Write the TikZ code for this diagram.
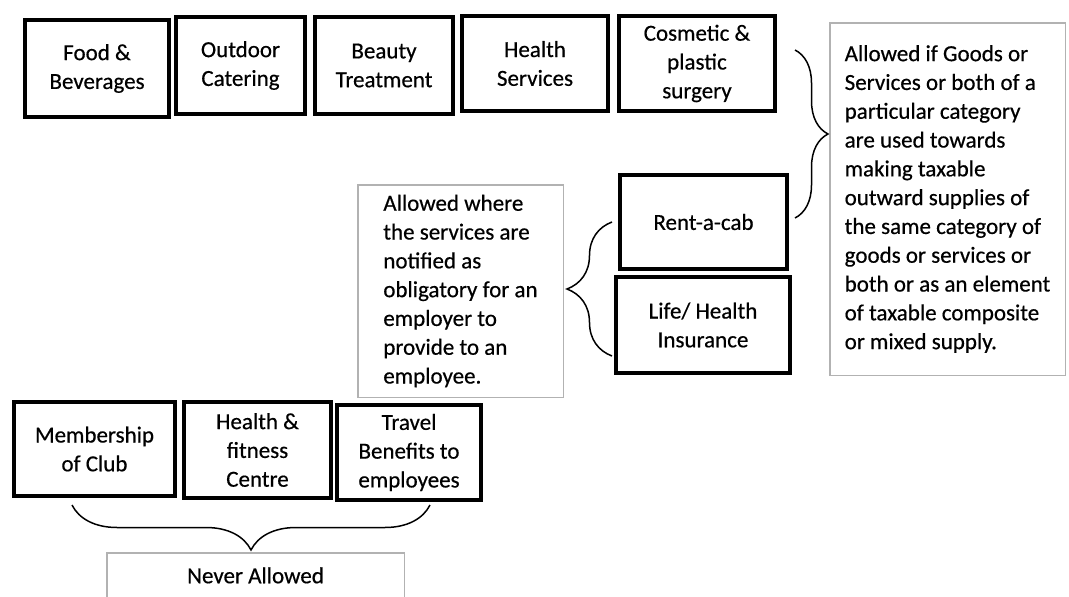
\documentclass[tikz,border=0pt]{standalone}
\usepackage{fontspec}
\setmainfont{Carlito}[FakeBold=0.5]
\usetikzlibrary{decorations.pathreplacing}
\tikzset{
    catbox/.style={draw=black,line width=4pt,align=center,inner sep=0pt,
        font=\fontsize{23}{28.8}\selectfont},
    notebox/.style={draw=black!30,line width=1.5pt,fill=white,inner sep=0pt,
        font=\fontsize{23}{28.8}\selectfont},
    curly/.style={decorate,decoration={brace,amplitude=#1},line width=1.5pt},
}
\newcommand\CatBox[6]{%
    \node[catbox,minimum width=#4,minimum height=#5] (#1) at (#2,#3) {#6};
}

\begin{document}
\begin{tikzpicture}[x=1pt,y=-1pt]
    \useasboundingbox (0,0) rectangle (1069,597);
    \clip (0,0) rectangle (1069,597);
    % top row
    \CatBox{food}{97}{68.5}{144}{97}{Food \&\\Beverages}
    \CatBox{outdoor}{240.5}{65.5}{129}{97}{Outdoor\\Catering}
    \CatBox{beauty}{384}{65.5}{138}{97}{Beauty\\Treatment}
    \CatBox{health}{535}{63.5}{146}{95}{Health\\Services}
    \CatBox{cosmetic}{697}{63.5}{156}{95}{Cosmetic \&\\plastic\\surgery}
    % middle
    \CatBox{cab}{703.5}{222}{167}{94}{Rent-a-cab}
    \CatBox{insurance}{703}{325}{174}{96}{Life/ Health\\Insurance}
    % bottom row
    \CatBox{club}{94.5}{449}{161}{94}{Membership\\of Club}
    \CatBox{fitness}{257.5}{450}{147}{96}{Health \&\\fitness\\Centre}
    \CatBox{travel}{409}{452.5}{144}{95}{Travel\\Benefits to\\employees}
    % notes
    \node[notebox,align=left,minimum width=235.5,minimum height=352.5] (taxable) at (947.5,199)
        {Allowed if Goods or\\Services or both of a\\particular category\\are used towards\\making taxable\\outward supplies of\\the same category of\\goods or services or\\both or as an element\\of taxable composite\\or mixed supply.};
    \node[notebox,align=left,minimum width=205.5,minimum height=212.5] (employer) at (460.5,291)
        {Allowed where\\the services are\\notified as\\obligatory for an\\employer to\\provide to an\\employee.};
    \node[notebox,anchor=north,minimum width=297.5,inner ysep=6pt,text height=24.5pt,text depth=40pt] (never) at (255.5,552)
        {Never Allowed};
    % braces
    \coordinate (taxTop) at (795,50);
    \coordinate (taxBot) at (795,218);
    \coordinate (empTop) at (612,222);
    \coordinate (empBot) at (612,356);
    \coordinate (neverL) at (72,505);
    \coordinate (neverR) at (430,505);
    \draw[curly=33pt] (taxTop) -- (taxBot);
    \draw[curly=45pt] (empBot) -- (empTop);
    \draw[curly=45pt] (neverR) -- (neverL);
\end{tikzpicture}
\end{document}
